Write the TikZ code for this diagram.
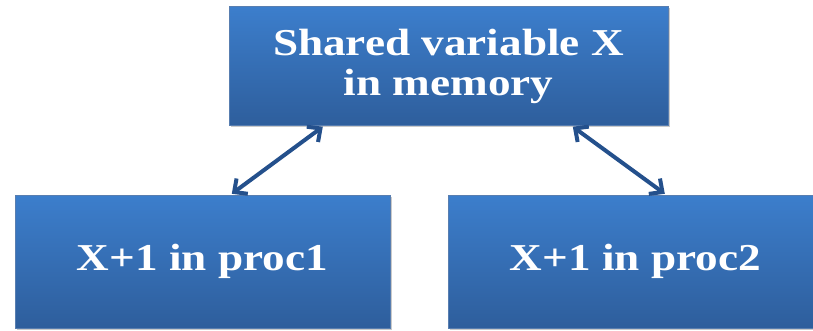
\documentclass[tikz,border=0pt]{standalone}
\usepackage{fontspec}
\newfontfamily\boxfont[FakeStretch=1.19]{Liberation Serif}
\usetikzlibrary{arrows.meta,shadows}
\definecolor{boxtop}{HTML}{3C7ECC}
\definecolor{boxbot}{HTML}{2E5E9C}
\definecolor{linkcol}{HTML}{24508C}
\tikzset{
  bluebox/.style={rectangle, draw=boxbot!80, line width=0.4pt,
    top color=boxtop, bottom color=boxbot, inner sep=0pt,
    drop shadow={shadow xshift=1.5pt, shadow yshift=-2pt, opacity=0.35, fill=black!60},
    text=white, align=center,
    font=\boxfont\bfseries\fontsize{38}{40}\selectfont},
  link/.style={draw=linkcol, line width=4pt, line cap=round,
    >={Straight Barb[length=10pt,width=19pt,line width=4pt]}, <->}
}
\begin{document}
\begin{tikzpicture}[x=1pt,y=-1pt]
  \useasboundingbox (0,0) rectangle (813,331);
  \clip (0,0) rectangle (813,331);
  \node[bluebox, minimum width=439pt, minimum height=119pt] (mem) at (448.5,66)
    {Shared variable X\\in memory};
  \node[bluebox, minimum width=375pt, minimum height=133pt] (p1) at (202.5,261.5)
    {X+1 in proc1};
  \node[bluebox, minimum width=375pt, minimum height=133pt] (p2) at (635.5,261.5)
    {X+1 in proc2};
  \draw[link] ([xshift=94pt,yshift=-1pt]mem.south west) -- ([xshift=217pt,yshift=1pt]p1.north west);
  \draw[link] ([xshift=344pt,yshift=-1pt]mem.south west) -- ([xshift=217pt,yshift=1pt]p2.north west);
\end{tikzpicture}
\end{document}
